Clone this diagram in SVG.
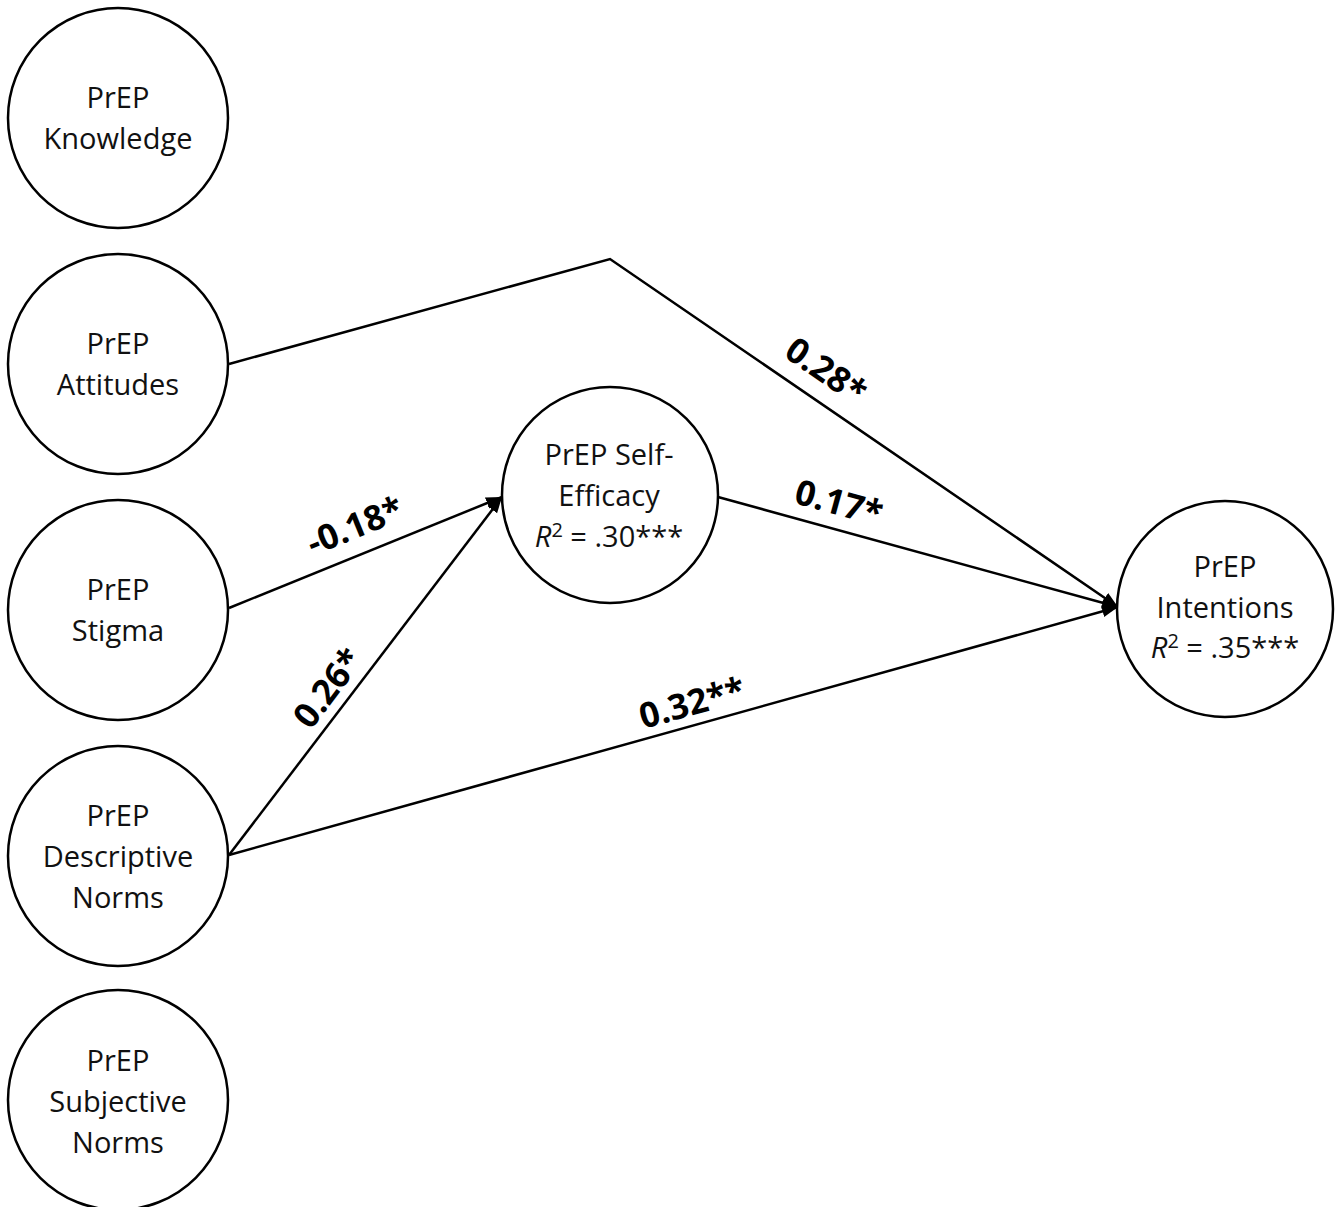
<svg xmlns="http://www.w3.org/2000/svg" width="1342" height="1207" viewBox="0 0 1342 1207">
<style>
.node{fill:#fff;stroke:#000;stroke-width:2.5}
.t{font-family:"Open Sans","Liberation Sans",sans-serif;font-size:29px;fill:#111;text-anchor:middle}
.edge{fill:none;stroke:#000;stroke-width:2.5}
.lbl{font-family:"Open Sans","Liberation Sans",sans-serif;font-size:35px;font-weight:bold;fill:#000;text-anchor:middle}
</style>
<defs>
<marker id="ah" markerUnits="userSpaceOnUse" markerWidth="18" markerHeight="14" refX="16" refY="6" orient="auto">
<path d="M0,0 L16,6 L0,12 z" fill="#000"/>
</marker>
</defs>
<rect width="1342" height="1207" fill="#fff"/>
<g id="connectors">
<polyline class="edge" points="229,364 610,259 1118,607" marker-end="url(#ah)"/>
<line class="edge" x1="229" y1="608" x2="502" y2="497" marker-end="url(#ah)"/>
<line class="edge" x1="229" y1="855" x2="502" y2="497" marker-end="url(#ah)"/>
<line class="edge" x1="718" y1="497" x2="1118" y2="607" marker-end="url(#ah)"/>
<line class="edge" x1="229" y1="855" x2="1118" y2="607" marker-end="url(#ah)"/>
<text class="lbl" transform="translate(826,371) rotate(34.4)" x="0" y="12">0.28*</text>
<text class="lbl" transform="translate(839,503) rotate(15.4)" x="0" y="12">0.17*</text>
<text class="lbl" transform="translate(355,526) rotate(-22.2)" x="0" y="12">-0.18*</text>
<text class="lbl" transform="translate(328,688) rotate(-52.8)" x="0" y="12">0.26*</text>
<text class="lbl" transform="translate(692,703) rotate(-15.6)" x="0" y="12">0.32**</text>
</g>
<g id="knowledge">
<circle class="node" cx="118" cy="118" r="110"/>
<text class="t" x="118" y="108">PrEP</text>
<text class="t" x="118" y="149">Knowledge</text>
</g>
<g id="attitudes">
<circle class="node" cx="118" cy="364" r="110"/>
<text class="t" x="118" y="354">PrEP</text>
<text class="t" x="118" y="395">Attitudes</text>
</g>
<g id="stigma">
<circle class="node" cx="118" cy="610" r="110"/>
<text class="t" x="118" y="600">PrEP</text>
<text class="t" x="118" y="641">Stigma</text>
</g>
<g id="descriptive-norms">
<circle class="node" cx="118" cy="856" r="110"/>
<text class="t" x="118" y="826">PrEP</text>
<text class="t" x="118" y="867">Descriptive</text>
<text class="t" x="118" y="908">Norms</text>
</g>
<g id="subjective-norms">
<circle class="node" cx="118" cy="1100" r="110"/>
<text class="t" x="118" y="1071">PrEP</text>
<text class="t" x="118" y="1112">Subjective</text>
<text class="t" x="118" y="1153">Norms</text>
</g>
<g id="self-efficacy">
<circle class="node" cx="610" cy="495" r="108"/>
<text class="t" x="609" y="465">PrEP Self-</text>
<text class="t" x="609" y="506">Efficacy</text>
<text class="t" x="609" y="547"><tspan font-style="italic">R</tspan><tspan font-size="20" dy="-10">2</tspan><tspan dy="10"> = .30***</tspan></text>
</g>
<g id="intentions">
<circle class="node" cx="1225" cy="609" r="108"/>
<text class="t" x="1225" y="577">PrEP</text>
<text class="t" x="1225" y="618">Intentions</text>
<text class="t" x="1225" y="658"><tspan font-style="italic">R</tspan><tspan font-size="20" dy="-10">2</tspan><tspan dy="10"> = .35***</tspan></text>
</g>
</svg>
